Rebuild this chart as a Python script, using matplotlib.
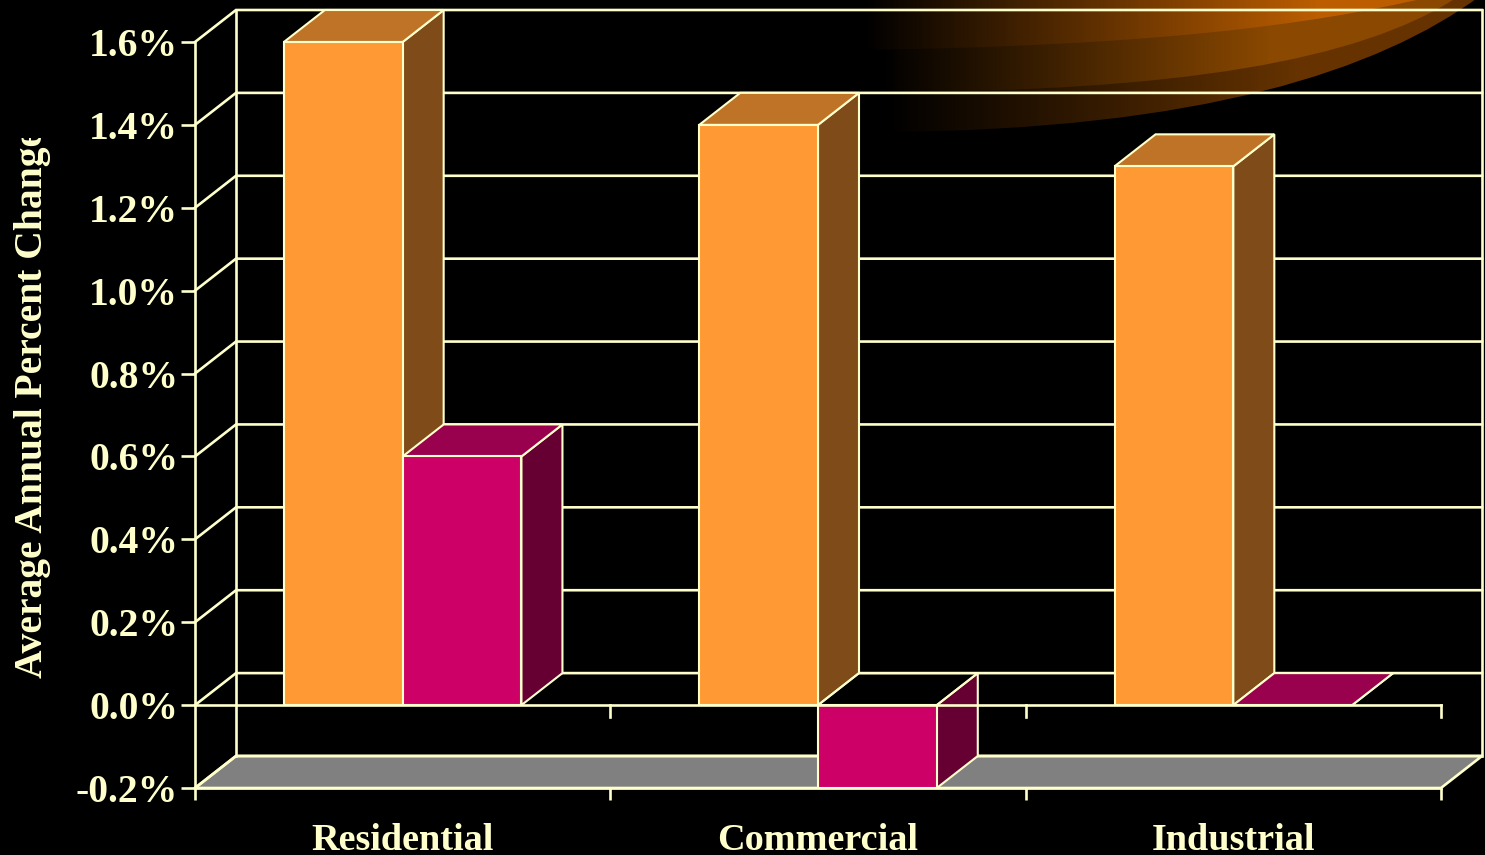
import numpy as np
import matplotlib
matplotlib.use("Agg")
import matplotlib.pyplot as plt
from matplotlib.patches import Polygon, Rectangle, PathPatch
from matplotlib.path import Path
from matplotlib.colors import LinearSegmentedColormap
from matplotlib.transforms import Affine2D

categories = ["Residential", "Commercial", "Industrial"]
series_a = [1.6, 1.4, 1.3]
series_b = [0.6, -0.2, 0.0]
y_ticks = [-0.2, 0.0, 0.2, 0.4, 0.6, 0.8, 1.0, 1.2, 1.4, 1.6]

W, H = 1485, 855
INK = "#FFFFCC"
FONT = "Liberation Serif"
LW = 1.9
BAR_LW = 1.5

fig = plt.figure(figsize=(W / 100, H / 100), dpi=100, facecolor="black")

# decoration: swoosh in the upper right, in pixel coordinates
bg = fig.add_axes([0, 0, 1, 1], zorder=0)
bg.axis("off")
swooshes = [
    ((885, 132), (1200, 130), (1380, 70), (1480, -4), 1300, "#663300"),
    ((880, 92), (1180, 92), (1360, 60), (1456, -2), 1270, "#8A4800"),
    ((862, 50), (1150, 46), (1310, 25), (1425, -2), 1320, "#BC5E00"),
]
for p0, p1, p2, p3, x_end, end in swooshes:
    cmap = LinearSegmentedColormap.from_list("s", ["#000000", end])
    gx = np.linspace(p0[0], 1482, 512)
    ramp = np.clip((gx - p0[0]) / (x_end - p0[0]), 0, 1)
    im = bg.imshow(ramp[None, :], extent=[p0[0], 1482, 140, -5], cmap=cmap,
                   aspect="auto", vmin=0, vmax=1)
    path = Path([(p0[0], -5), p0, p1, p2, p3, (p3[0], -5), (p0[0], -5)],
                [Path.MOVETO, Path.LINETO, Path.CURVE4, Path.CURVE4, Path.CURVE4,
                 Path.LINETO, Path.CLOSEPOLY])
    im.set_clip_path(PathPatch(path, transform=bg.transData))
bg.set_xlim(0, W); bg.set_ylim(H, 0)

# chart
ax = fig.add_axes([195 / W, (H - 788) / H, (1441 - 195) / W, (788 - 42) / H], zorder=1)
ax.patch.set_alpha(0)
ax.set_xlim(0, 3)
ax.set_ylim(-0.2, 1.6)

DX = 41 / ((1441 - 195) / 3)
DY = 32 / ((788 - 42) / 1.8)
BW = 0.286
DROP = 12 / ((788 - 42) / 1.8)

def poly(pts, face, z, lw=BAR_LW):
    ax.add_patch(Polygon(pts, closed=True, facecolor=face, edgecolor=INK, lw=lw,
                         zorder=z, clip_on=False, joinstyle="miter"))

ymin = y_ticks[0]
poly([(0, ymin), (DX, ymin + DY), (3 + DX, ymin + DY), (3, ymin)], "#808080", 1, LW)
for v in y_ticks:
    ax.plot([0, DX, 3 + DX], [v, v + DY, v + DY], color=INK, lw=LW, zorder=1.5,
            clip_on=False, solid_joinstyle="miter")
ax.plot([DX, DX], [ymin + DY, y_ticks[-1] + DY], color=INK, lw=LW, zorder=1.6, clip_on=False)
ax.plot([3 + DX, 3 + DX], [ymin + DY, y_ticks[-1] + DY], color=INK, lw=LW, zorder=1.6, clip_on=False)

def bar3d(x, v, front, top, side, z):
    lo, hi = min(0, v), max(0, v)
    poly([(x + BW, lo), (x + BW + DX, lo + DY), (x + BW + DX, hi + DY), (x + BW, hi)], side, z)
    poly([(x, hi), (x + DX, hi + DY), (x + BW + DX, hi + DY), (x + BW, hi)],
         top if v >= 0 else "none", z)
    poly([(x, lo), (x, hi), (x + BW, hi), (x + BW, lo)], front, z + 0.1)

for i, v in enumerate(series_a):
    bar3d(i + 0.5 - BW, v, "#FF9933", "#BF7326", "#7F4C19", 3 + i)
for i, v in enumerate(series_b):
    bar3d(i + 0.5, v, "#CC0066", "#99004D", "#660033", 3.3 + i)

# zero line with its ticks
ax.plot([0, 3], [0, 0], color=INK, lw=LW, zorder=8, clip_on=False)
for t in [1, 2, 3]:
    ax.plot([t, t], [0, -DROP], color=INK, lw=LW, zorder=8, clip_on=False)

for s in ["top", "right"]:
    ax.spines[s].set_visible(False)
for s in ["left", "bottom"]:
    ax.spines[s].set_color(INK)
    ax.spines[s].set_linewidth(LW)
    ax.spines[s].set_zorder(9)

ax.set_yticks(y_ticks)
ax.set_yticklabels([f"{v:.1f}%" for v in y_ticks], family=FONT, weight="bold",
                   fontsize=28.5, color=INK)
ax.tick_params(axis="y", length=10, width=LW, color=INK, pad=2)
ax.set_xticks([0, 1, 2, 3])
ax.set_xticklabels([])
ax.tick_params(axis="x", which="major", length=8.6, width=LW, color=INK)
ax.set_xticks([0.5, 1.5, 2.5], minor=True)
ax.set_xticklabels(categories, minor=True, family=FONT, weight="bold", fontsize=27.5, color=INK)
ax.tick_params(axis="x", which="minor", length=0, pad=25)

ylab = fig.text(33 / W, (H - 678) / H, "Average Annual Percent Change", rotation=90,
                ha="center", va="bottom", family=FONT, weight="bold", fontsize=28.5, color=INK)
ylab.set_clip_path(Rectangle((0, H - 678 - 10), 60, 678 + 10 - 138,
                             transform=Affine2D().scale(1)))
ylab.set_clip_on(True)

fig.savefig("out.png", dpi=100, facecolor="black")
